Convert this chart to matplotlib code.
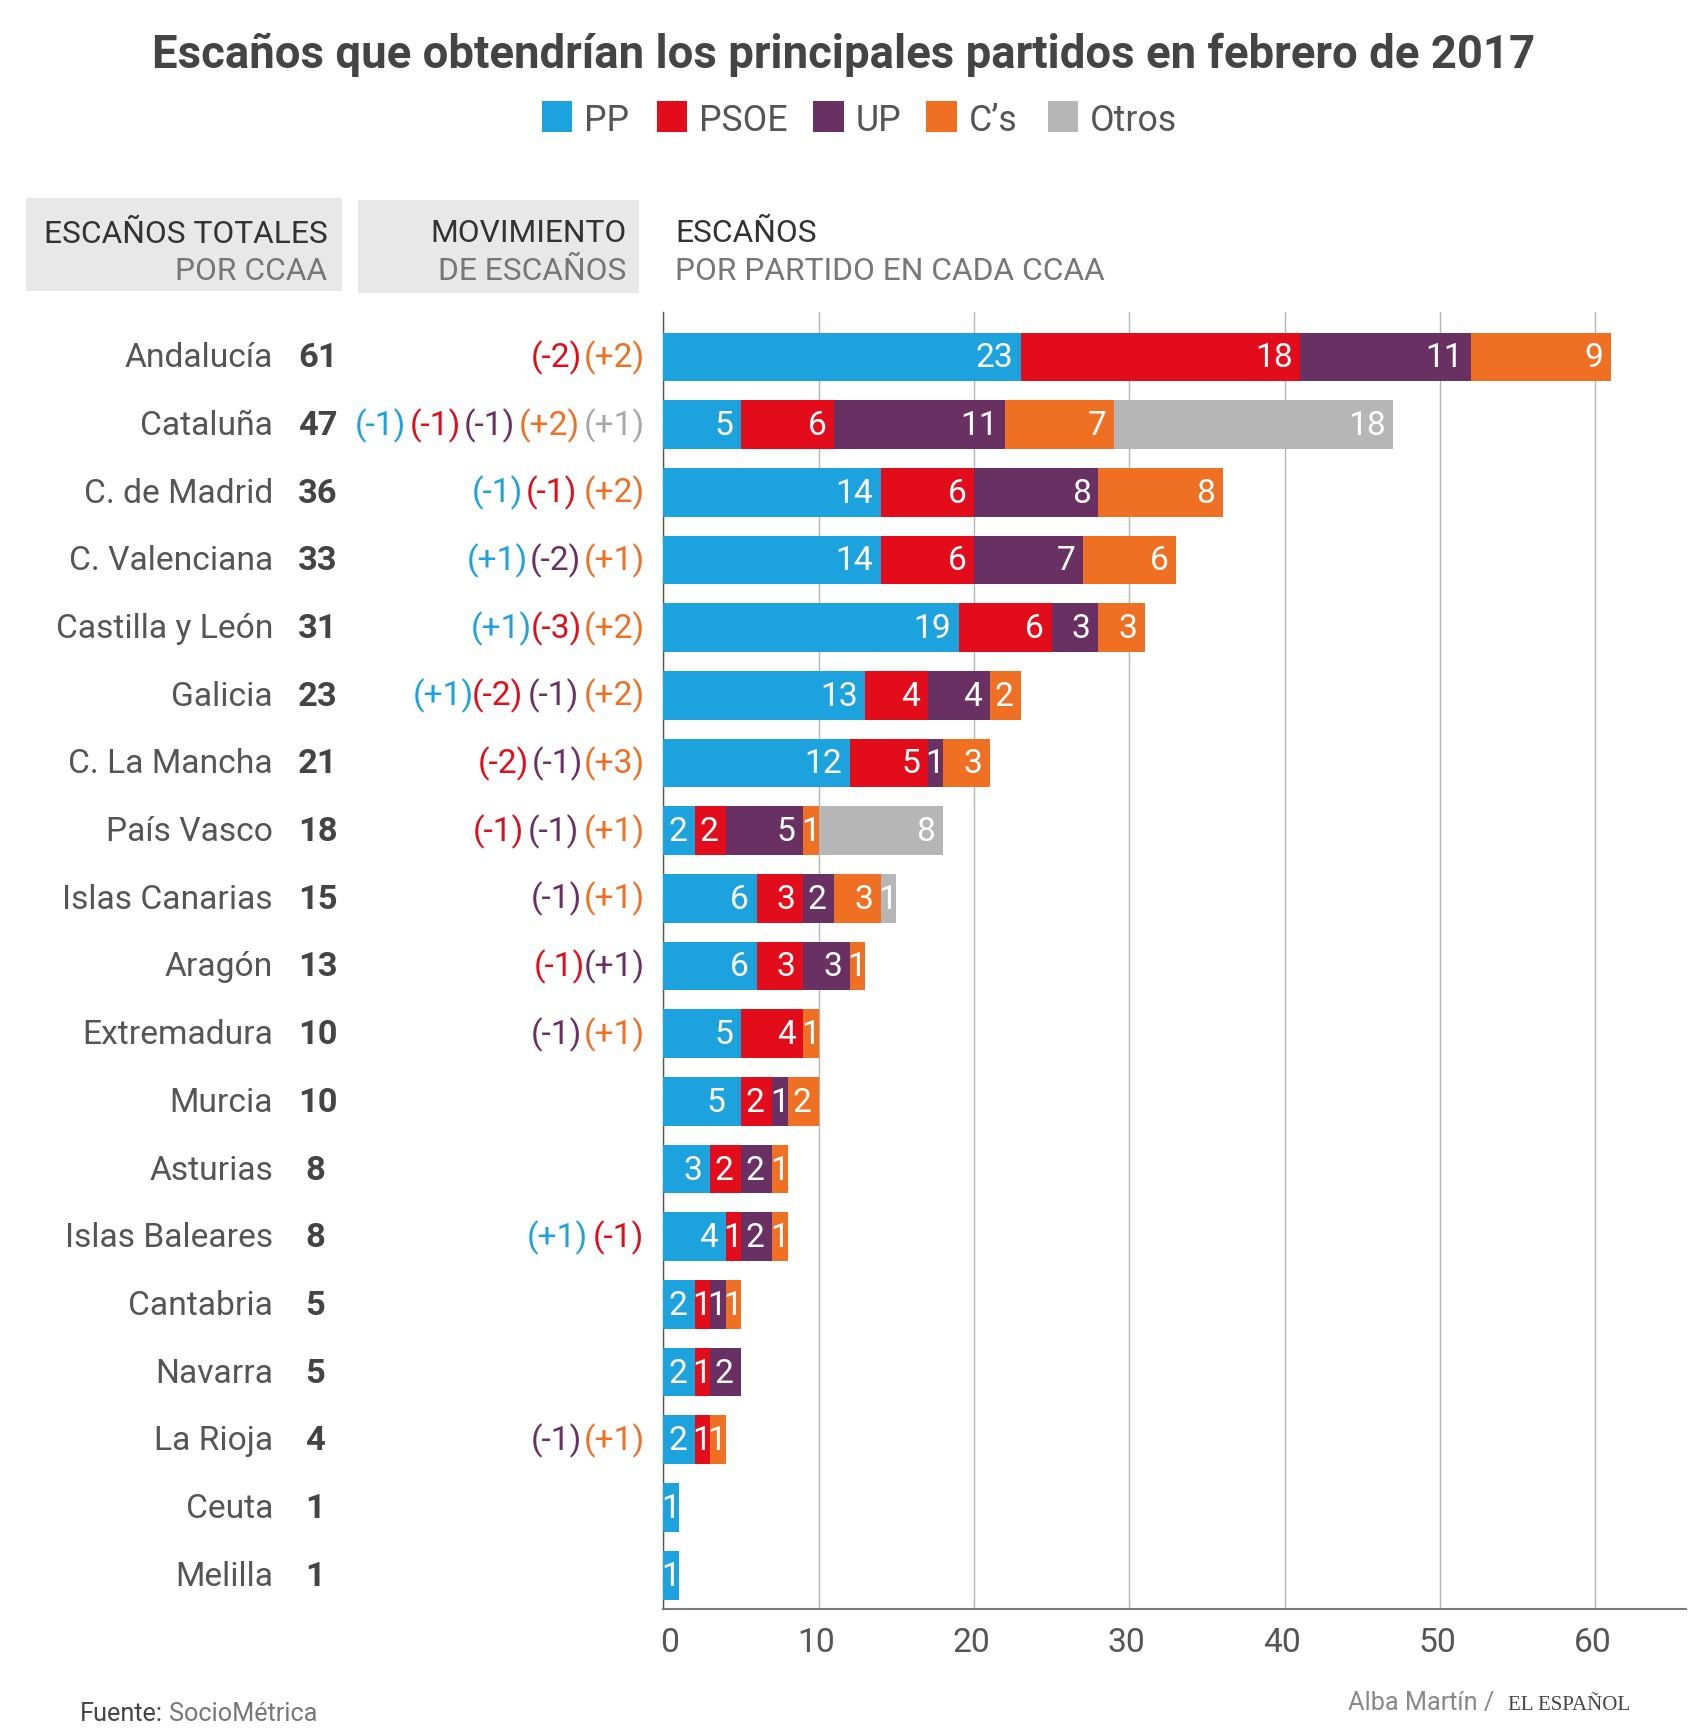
import matplotlib
matplotlib.use("Agg")
import matplotlib.pyplot as plt
from matplotlib.patches import Rectangle
from matplotlib.transforms import ScaledTranslation, blended_transform_factory

plt.rcParams['font.family'] = ['Roboto', 'DejaVu Sans']

# Data
regions = ["Andalucía", "Cataluña", "C. de Madrid", "C. Valenciana", "Castilla y León", "Galicia",
           "C. La Mancha", "País Vasco", "Islas Canarias", "Aragón", "Extremadura", "Murcia",
           "Asturias", "Islas Baleares", "Cantabria", "Navarra", "La Rioja", "Ceuta", "Melilla"]
totals = [61, 47, 36, 33, 31, 23, 21, 18, 15, 13, 10, 10, 8, 8, 5, 5, 4, 1, 1]

parties = ["PP", "PSOE", "UP", "C’s", "Otros"]
pp = [23, 5, 14, 14, 19, 13, 12, 2, 6, 6, 5, 5, 3, 4, 2, 2, 2, 1, 1]
psoe = [18, 6, 6, 6, 6, 4, 5, 2, 3, 3, 4, 2, 2, 1, 1, 1, 1, 0, 0]
up = [11, 11, 8, 7, 3, 4, 1, 5, 2, 3, 0, 1, 2, 2, 1, 2, 0, 0, 0]
cs = [9, 7, 8, 6, 3, 2, 3, 1, 3, 1, 1, 2, 1, 1, 1, 0, 1, 0, 0]
otros = [0, 18, 0, 0, 0, 0, 0, 8, 1, 0, 0, 0, 0, 0, 0, 0, 0, 0, 0]
series = [pp, psoe, up, cs, otros]

# Movement of seats per region: label and party index
mov_labels = [["(-2)", "(+2)"],
              ["(-1)", "(-1)", "(-1)", "(+2)", "(+1)"],
              ["(-1)", "(-1)", "(+2)"],
              ["(+1)", "(-2)", "(+1)"],
              ["(+1)", "(-3)", "(+2)"],
              ["(+1)", "(-2)", "(-1)", "(+2)"],
              ["(-2)", "(-1)", "(+3)"],
              ["(-1)", "(-1)", "(+1)"],
              ["(-1)", "(+1)"],
              ["(-1)", "(+1)"],
              ["(-1)", "(+1)"],
              [], [],
              ["(+1)", "(-1)"],
              [], [],
              ["(-1)", "(+1)"],
              [], []]
mov_party = [[1, 3], [0, 1, 2, 3, 4], [0, 1, 3], [0, 2, 3], [0, 1, 3], [0, 1, 2, 3], [1, 2, 3],
             [1, 2, 3], [2, 3], [1, 2], [2, 3], [], [], [0, 1], [], [], [2, 3], [], []]

# Layout: right edge in pixels of each movement label
mov_right = [[582, 644.5], [406, 461, 515, 580, 644.5], [523, 577, 644.5], [528, 581, 644.5], [532, 582, 644.5],
             [474, 523, 579, 644.5], [529, 583, 644.5], [524, 579, 644.5], [582, 644.5], [585, 644.5], [582, 644.5],
             [], [], [588, 644.5], [], [], [582, 644.5], [], []]

# Colors
colors = ["#1CA3DD", "#E30C1A", "#693163", "#EF7023", "#B6B6B6"]
mov_colors = ["#1CA3DD", "#E30C1A", "#693163", "#EF7023", "#A8A8A8"]
DARK = "#444444"
MID = "#555555"
HEAD = "#333333"
SOFT = "#777777"
FS = 24.2
HEAD_FS = 22.9
LEGEND_FS = 25.7
FOOT_FS = 18.2

W, H = 1706, 1728
fig = plt.figure(figsize=(W / 100, H / 100), dpi=100, facecolor="white")


def fx(x):
    return x / W


def fy(y):
    return 1 - y / H


def box(x0, y0, x1, y1, color):
    fig.add_artist(Rectangle((fx(x0), fy(y1)), (x1 - x0) / W, (y1 - y0) / H, transform=fig.transFigure,
                             facecolor=color, edgecolor="none"))


def label(x, y, s, **kw):
    kw.setdefault("fontsize", HEAD_FS)
    kw.setdefault("va", "baseline")
    fig.text(fx(x), fy(y), s, **kw)


# Axes for the bars
ax_left, ax_right, ax_top, ax_bottom = 663.5, 1686, 312, 1609
ax = fig.add_axes([fx(ax_left), fy(ax_bottom), (ax_right - ax_left) / W, (ax_bottom - ax_top) / H])
ax.set_xlim(0, (ax_right - ax_left) / 15.53)
ax.set_ylim(18.5, -0.665)

rows = list(range(len(regions)))
left = [0] * len(regions)
for s, vals in enumerate(series):
    ax.barh(rows, vals, left=left, height=0.72, color=colors[s], zorder=3)
    for i, v in enumerate(vals):
        if v == 0:
            continue
        if v == 1:
            ax.annotate(str(v), (left[i] + v / 2, i), xytext=(-0.5, -7.5), textcoords="offset points",
                        ha="center", va="baseline", color="white", fontsize=FS, zorder=4)
        else:
            # the 5 of Murcia sits further from the bar end in the original
            pad = -11.5 if (regions[i] == "Murcia" and s == 0) else -5.5
            ax.annotate(str(v), (left[i] + v, i), xytext=(pad, -7.5), textcoords="offset points",
                        ha="right", va="baseline", color="white", fontsize=FS, zorder=4)
    left = [a + b for a, b in zip(left, vals)]

ax.set_xticks([0, 10, 20, 30, 40, 50, 60])
ax.set_yticks([])
ax.grid(axis="x", color="#B4B4B4", linewidth=1.0, zorder=0)
ax.set_axisbelow(True)
for side in ["top", "right"]:
    ax.spines[side].set_visible(False)
ax.spines["left"].set_color("#555555")
ax.spines["left"].set_linewidth(1.0)
ax.spines["bottom"].set_color("#7A7A7A")
ax.spines["bottom"].set_linewidth(1.5)
ax.tick_params(axis="x", length=0, pad=13, labelsize=FS, labelcolor=MID)
for tick in ax.get_xticklabels():
    shift = 6 if tick.get_text() == "0" else -3
    tick.set_transform(tick.get_transform() + ScaledTranslation(shift / 100, 0, fig.dpi_scale_trans))

# Region names, totals and movements, x in figure and y in data
trans = blended_transform_factory(fig.transFigure, ax.transData)
for i, name in enumerate(regions):
    ax.annotate(name, (fx(273), i), xycoords=trans, xytext=(0, -7.5), textcoords="offset points",
                ha="right", va="baseline", color=MID, fontsize=FS, annotation_clip=False)
    total_x = 318 if totals[i] >= 10 else 315
    ax.annotate(str(totals[i]), (fx(total_x), i), xycoords=trans, xytext=(0, -7.5), textcoords="offset points",
                ha="center", va="baseline", color=DARK, fontsize=FS + 0.6, fontweight="bold",
                annotation_clip=False)
    for txt, party, right in zip(mov_labels[i], mov_party[i], mov_right[i]):
        ax.annotate(txt, (fx(right), i), xycoords=trans, xytext=(0, -7.5), textcoords="offset points",
                    ha="right", va="baseline", color=mov_colors[party], fontsize=FS, annotation_clip=False)

# Title
label(843.5, 68, "Escaños que obtendrían los principales partidos en febrero de 2017", fontsize=32.8,
      fontweight="bold", color=DARK, ha="center")

# Legend
legend_box = [542, 657, 813.5, 926.5, 1048]
legend_text = [584, 699, 855.5, 969, 1090]
for name, c, bx, tx in zip(parties, colors, legend_box, legend_text):
    box(bx, 101, bx + 30.5, 132, c)
    label(tx, 131, name, color=MID, fontsize=LEGEND_FS)

# Column headers
box(26, 198, 342, 291, "#E8E8E8")
box(358, 200, 639, 293, "#E8E8E8")
label(327.5, 243, "ESCAÑOS TOTALES", color=HEAD, ha="right")
label(327.5, 280, "POR CCAA", color=SOFT, ha="right")
label(626.5, 242, "MOVIMIENTO", color=HEAD, ha="right")
label(626.5, 280, "DE ESCAÑOS", color=SOFT, ha="right")
label(675, 242, "ESCAÑOS", color=HEAD)
label(675, 280, "POR PARTIDO EN CADA CCAA", color=SOFT)

# Footer
label(79.5, 1721, "Fuente:", fontsize=FOOT_FS, color=DARK)
label(169, 1721, "SocioMétrica", fontsize=FOOT_FS, color=SOFT)
label(1348, 1710, "Alba Martín /", fontsize=FOOT_FS, color="#888888")
label(1630, 1710, "EL ESPAÑOL", fontsize=15, color=DARK, ha="right", family="Liberation Serif")

fig.savefig("out.png", dpi=100)
